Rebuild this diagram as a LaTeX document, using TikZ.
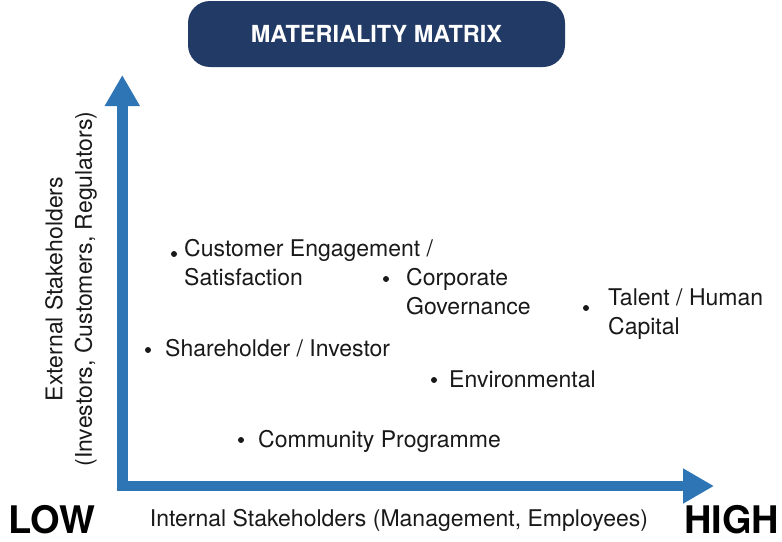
\documentclass[tikz,border=0pt]{standalone}
\usepackage{fontspec}
\setmainfont{TeX Gyre Heros}
\usetikzlibrary{arrows.meta}
\definecolor{navy}{RGB}{34,58,102}
\definecolor{axisblue}{RGB}{46,117,182}
\definecolor{ink}{RGB}{25,25,25}
\begin{document}
\begin{tikzpicture}[x=1pt,y=-1pt,
  itemtext/.style={inner sep=0pt,align=left,text=ink,font=\fontsize{23}{29.5}\selectfont},
  dot/.style={circle,fill=ink,inner sep=0pt,minimum size=6pt},
  bigword/.style={inner sep=0pt,anchor=base west,font=\fontsize{38}{40}\selectfont\bfseries,text=black},
  axisline/.style={draw=axisblue,line width=10.5pt,line join=miter,
    {Triangle[length=31pt,width=33pt]}-{Triangle[length=31pt,width=33pt]}}]
\useasboundingbox (0,0) rectangle (782,541);
% title
\node[fill=navy,rounded corners=22pt,minimum width=377pt,minimum height=66pt,inner sep=0pt,
  text=white,font=\fontsize{23.5}{26}\selectfont\bfseries] (title) at (376.5,34) {MATERIALITY MATRIX};
% axes
\coordinate (ytip) at (122.3,75);
\coordinate (origin) at (122.3,486);
\coordinate (xtip) at (714,486);
\draw[axisline] (ytip) -- (origin) -- (xtip);
% axis labels
\node[itemtext,align=center,rotate=90] (ylabel) at (71,289) {External Stakeholders\\(Investors, Customers, Regulators)};
\node[itemtext,anchor=base] (xlabel) at (399,526) {Internal Stakeholders (Management, Employees)};
\node[bigword] (low) at (8,533) {LOW};
\node[bigword] (high) at (684,533) {HIGH};
% items
\node[dot] (d1) at (174,254) {};
\node[itemtext,anchor=north west] (cust) at (184,236) {\rule{0pt}{20pt}Customer Engagement /\\Satisfaction};
\node[dot] (d2) at (386,279) {};
\node[itemtext,anchor=north west] (corp) at (406,265) {\rule{0pt}{20pt}Corporate\\Governance};
\node[dot] (d3) at (586,308) {};
\node[itemtext,anchor=north west] (talent) at (608,285) {\rule{0pt}{20pt}Talent / Human\\Capital};
\node[dot] (d4) at (148,350) {};
\node[itemtext,anchor=base west] (share) at (165,356) {Shareholder / Investor};
\node[dot] (d5) at (434,380) {};
\node[itemtext,anchor=base west] (env) at (449,387) {Environmental};
\node[dot] (d6) at (241,440) {};
\node[itemtext,anchor=base west] (comm) at (258,447) {Community Programme};
\end{tikzpicture}
\end{document}
